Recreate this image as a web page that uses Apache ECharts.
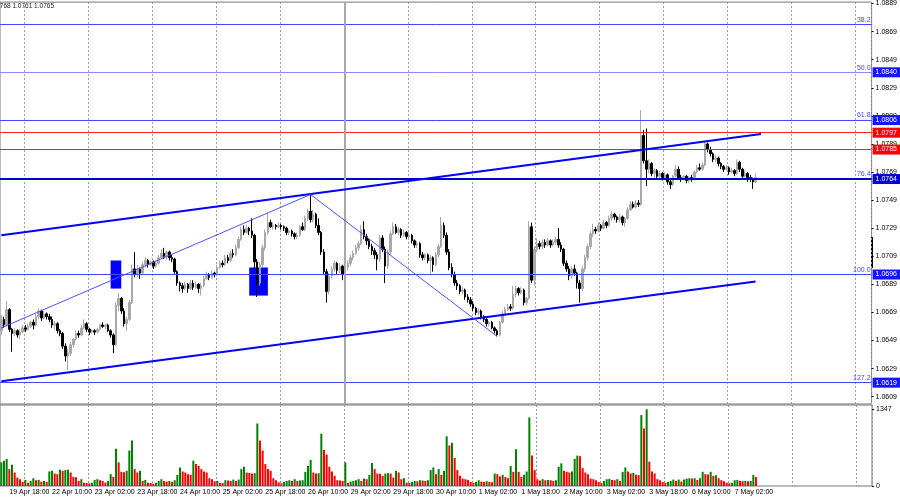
<!DOCTYPE html>
<html>
<head>
<meta charset="utf-8">
<script src="https://cdn.jsdelivr.net/npm/echarts@6/dist/echarts.min.js"></script>
<style>
  html, body { margin: 0; padding: 0; background: #fff; }
  #chart { width: 900px; height: 500px; }
</style>
</head>
<body>
<div id="chart"></div>
<script>
// hourly bars EURUSD H1, 19 Apr 15:00 .. 7 May 10:00, [open, close, low, high]
const candles = [
  [1.0656,1.0664,1.0653,1.0667],[1.0664,1.0660,1.0658,1.0666],[1.0660,1.0671,1.0659,1.0677],[1.0671,1.0657,1.0655,1.0672],
  [1.0657,1.0654,1.0641,1.0658],[1.0654,1.0656,1.0652,1.0658],[1.0656,1.0653,1.0651,1.0657],[1.0653,1.0655,1.0650,1.0657],
  [1.0655,1.0658,1.0654,1.0660],[1.0658,1.0657,1.0655,1.0660],[1.0657,1.0659,1.0656,1.0661],[1.0659,1.0662,1.0658,1.0663],
  [1.0662,1.0660,1.0657,1.0664],[1.0660,1.0666,1.0659,1.0668],[1.0666,1.0670,1.0664,1.0672],[1.0670,1.0665,1.0663,1.0671],
  [1.0665,1.0668,1.0664,1.0670],[1.0668,1.0666,1.0664,1.0669],[1.0666,1.0664,1.0662,1.0668],[1.0664,1.0660,1.0658,1.0666],
  [1.0660,1.0661,1.0657,1.0663],[1.0661,1.0656,1.0654,1.0662],[1.0656,1.0654,1.0652,1.0657],[1.0654,1.0645,1.0643,1.0655],
  [1.0645,1.0638,1.0634,1.0647],[1.0638,1.0640,1.0628,1.0643],[1.0640,1.0646,1.0638,1.0648],[1.0646,1.0650,1.0644,1.0651],
  [1.0650,1.0654,1.0649,1.0656],[1.0654,1.0653,1.0651,1.0656],[1.0653,1.0658,1.0652,1.0660],[1.0658,1.0661,1.0657,1.0664],
  [1.0661,1.0657,1.0655,1.0662],[1.0657,1.0655,1.0653,1.0658],[1.0655,1.0656,1.0654,1.0657],[1.0656,1.0655,1.0653,1.0657],
  [1.0655,1.0657,1.0654,1.0658],[1.0657,1.0660,1.0656,1.0661],[1.0660,1.0659,1.0658,1.0662],[1.0659,1.0660,1.0657,1.0661],
  [1.0660,1.0656,1.0655,1.0661],[1.0656,1.0653,1.0651,1.0657],[1.0653,1.0646,1.0640,1.0654],[1.0646,1.0674,1.0645,1.0676],
  [1.0674,1.0679,1.0670,1.0683],[1.0679,1.0670,1.0668,1.0680],[1.0670,1.0661,1.0659,1.0672],[1.0661,1.0664,1.0656,1.0666],
  [1.0664,1.0676,1.0663,1.0678],[1.0676,1.0700,1.0675,1.0703],[1.0700,1.0696,1.0694,1.0712],[1.0696,1.0700,1.0694,1.0703],
  [1.0700,1.0697,1.0693,1.0701],[1.0697,1.0703,1.0696,1.0705],[1.0703,1.0706,1.0701,1.0708],[1.0706,1.0703,1.0701,1.0707],
  [1.0703,1.0705,1.0702,1.0706],[1.0705,1.0702,1.0700,1.0706],[1.0702,1.0704,1.0701,1.0706],[1.0704,1.0708,1.0703,1.0710],
  [1.0708,1.0711,1.0707,1.0714],[1.0711,1.0709,1.0707,1.0715],[1.0709,1.0712,1.0707,1.0713],[1.0712,1.0708,1.0706,1.0713],
  [1.0708,1.0707,1.0705,1.0710],[1.0707,1.0698,1.0696,1.0708],[1.0698,1.0690,1.0688,1.0699],[1.0690,1.0688,1.0684,1.0691],
  [1.0688,1.0686,1.0683,1.0690],[1.0686,1.0689,1.0685,1.0691],[1.0689,1.0686,1.0683,1.0690],[1.0686,1.0690,1.0685,1.0692],
  [1.0690,1.0687,1.0685,1.0692],[1.0687,1.0689,1.0686,1.0691],[1.0689,1.0686,1.0683,1.0690],[1.0686,1.0688,1.0681,1.0690],
  [1.0688,1.0693,1.0687,1.0695],[1.0693,1.0696,1.0692,1.0698],[1.0696,1.0694,1.0692,1.0697],[1.0694,1.0697,1.0693,1.0699],
  [1.0697,1.0696,1.0694,1.0698],[1.0696,1.0701,1.0695,1.0703],[1.0701,1.0704,1.0700,1.0706],[1.0704,1.0703,1.0701,1.0706],
  [1.0703,1.0708,1.0702,1.0710],[1.0708,1.0706,1.0704,1.0710],[1.0706,1.0711,1.0705,1.0713],[1.0711,1.0710,1.0708,1.0714],
  [1.0710,1.0715,1.0709,1.0717],[1.0715,1.0721,1.0714,1.0723],[1.0721,1.0728,1.0720,1.0730],[1.0728,1.0726,1.0724,1.0731],
  [1.0726,1.0729,1.0725,1.0731],[1.0729,1.0727,1.0724,1.0730],[1.0727,1.0724,1.0722,1.0736],[1.0724,1.0705,1.0700,1.0725],
  [1.0705,1.0690,1.0680,1.0707],[1.0690,1.0703,1.0688,1.0705],[1.0703,1.0715,1.0701,1.0717],[1.0715,1.0726,1.0713,1.0728],
  [1.0726,1.0733,1.0724,1.0740],[1.0733,1.0730,1.0729,1.0735],[1.0730,1.0731,1.0728,1.0733],[1.0731,1.0730,1.0728,1.0732],
  [1.0730,1.0731,1.0729,1.0733],[1.0731,1.0730,1.0728,1.0732],[1.0730,1.0729,1.0727,1.0731],[1.0729,1.0726,1.0724,1.0730],
  [1.0726,1.0727,1.0724,1.0728],[1.0727,1.0725,1.0723,1.0728],[1.0725,1.0723,1.0721,1.0726],[1.0723,1.0724,1.0721,1.0726],
  [1.0724,1.0730,1.0723,1.0731],[1.0730,1.0728,1.0727,1.0733],[1.0728,1.0736,1.0727,1.0738],[1.0736,1.0741,1.0734,1.0743],
  [1.0741,1.0735,1.0733,1.0754],[1.0735,1.0739,1.0733,1.0742],[1.0739,1.0731,1.0729,1.0740],[1.0731,1.0726,1.0724,1.0736],
  [1.0726,1.0712,1.0710,1.0727],[1.0712,1.0698,1.0696,1.0714],[1.0698,1.0684,1.0676,1.0700],[1.0684,1.0695,1.0682,1.0697],
  [1.0695,1.0700,1.0693,1.0702],[1.0700,1.0704,1.0698,1.0706],[1.0704,1.0699,1.0696,1.0705],[1.0699,1.0702,1.0697,1.0704],
  [1.0702,1.0696,1.0692,1.0703],[1.0696,1.0701,1.0695,1.0703],[1.0701,1.0704,1.0699,1.0706],[1.0704,1.0708,1.0702,1.0710],
  [1.0708,1.0711,1.0706,1.0713],[1.0711,1.0715,1.0710,1.0717],[1.0715,1.0718,1.0713,1.0720],[1.0718,1.0728,1.0717,1.0731],
  [1.0728,1.0723,1.0721,1.0734],[1.0723,1.0720,1.0717,1.0725],[1.0720,1.0716,1.0714,1.0722],[1.0716,1.0713,1.0710,1.0718],
  [1.0713,1.0710,1.0707,1.0715],[1.0710,1.0707,1.0699,1.0712],[1.0707,1.0722,1.0705,1.0724],[1.0722,1.0714,1.0712,1.0724],
  [1.0714,1.0702,1.0690,1.0716],[1.0702,1.0712,1.0700,1.0714],[1.0712,1.0725,1.0710,1.0727],[1.0725,1.0730,1.0724,1.0733],
  [1.0730,1.0726,1.0725,1.0732],[1.0726,1.0728,1.0724,1.0730],[1.0728,1.0724,1.0722,1.0729],[1.0724,1.0726,1.0723,1.0728],
  [1.0726,1.0723,1.0721,1.0727],[1.0723,1.0724,1.0721,1.0726],[1.0724,1.0720,1.0718,1.0725],[1.0720,1.0717,1.0715,1.0721],
  [1.0717,1.0718,1.0715,1.0720],[1.0718,1.0710,1.0708,1.0719],[1.0710,1.0708,1.0706,1.0712],[1.0708,1.0710,1.0706,1.0711],
  [1.0710,1.0706,1.0704,1.0711],[1.0706,1.0708,1.0696,1.0710],[1.0708,1.0703,1.0698,1.0709],[1.0703,1.0710,1.0702,1.0712],
  [1.0710,1.0716,1.0708,1.0718],[1.0716,1.0731,1.0715,1.0737],[1.0731,1.0724,1.0722,1.0733],[1.0724,1.0712,1.0710,1.0726],
  [1.0712,1.0701,1.0699,1.0714],[1.0701,1.0696,1.0694,1.0704],[1.0696,1.0690,1.0688,1.0698],[1.0690,1.0688,1.0685,1.0692],
  [1.0688,1.0684,1.0682,1.0689],[1.0684,1.0685,1.0682,1.0687],[1.0685,1.0680,1.0678,1.0686],[1.0680,1.0678,1.0676,1.0682],
  [1.0678,1.0675,1.0673,1.0680],[1.0675,1.0672,1.0670,1.0677],[1.0672,1.0669,1.0667,1.0673],[1.0669,1.0670,1.0667,1.0672],
  [1.0670,1.0666,1.0664,1.0671],[1.0666,1.0664,1.0662,1.0667],[1.0664,1.0661,1.0659,1.0665],[1.0661,1.0662,1.0659,1.0663],
  [1.0662,1.0658,1.0657,1.0663],[1.0658,1.0656,1.0654,1.0659],[1.0656,1.0653,1.0652,1.0657],[1.0653,1.0662,1.0652,1.0663],
  [1.0662,1.0668,1.0661,1.0670],[1.0668,1.0671,1.0667,1.0673],[1.0671,1.0673,1.0670,1.0675],[1.0673,1.0672,1.0670,1.0675],
  [1.0672,1.0682,1.0671,1.0688],[1.0682,1.0686,1.0680,1.0688],[1.0686,1.0683,1.0681,1.0687],[1.0683,1.0685,1.0682,1.0687],
  [1.0685,1.0676,1.0674,1.0686],[1.0676,1.0679,1.0674,1.0680],[1.0679,1.0730,1.0678,1.0734],[1.0730,1.0692,1.0690,1.0733],
  [1.0692,1.0714,1.0688,1.0716],[1.0714,1.0718,1.0712,1.0722],[1.0718,1.0716,1.0714,1.0720],[1.0716,1.0719,1.0714,1.0721],
  [1.0719,1.0717,1.0715,1.0721],[1.0717,1.0720,1.0716,1.0722],[1.0720,1.0717,1.0715,1.0721],[1.0717,1.0719,1.0716,1.0721],
  [1.0719,1.0721,1.0717,1.0723],[1.0721,1.0717,1.0715,1.0729],[1.0717,1.0714,1.0712,1.0719],[1.0714,1.0704,1.0702,1.0715],
  [1.0704,1.0700,1.0698,1.0706],[1.0700,1.0695,1.0692,1.0702],[1.0695,1.0700,1.0693,1.0702],[1.0700,1.0697,1.0695,1.0703],
  [1.0697,1.0690,1.0686,1.0698],[1.0690,1.0686,1.0676,1.0692],[1.0686,1.0700,1.0684,1.0702],[1.0700,1.0708,1.0698,1.0710],
  [1.0708,1.0716,1.0706,1.0718],[1.0716,1.0725,1.0714,1.0727],[1.0725,1.0728,1.0723,1.0732],[1.0728,1.0727,1.0725,1.0730],
  [1.0727,1.0731,1.0726,1.0733],[1.0731,1.0729,1.0727,1.0732],[1.0729,1.0733,1.0728,1.0735],[1.0733,1.0731,1.0729,1.0734],
  [1.0731,1.0736,1.0730,1.0738],[1.0736,1.0739,1.0734,1.0741],[1.0739,1.0737,1.0735,1.0740],[1.0737,1.0735,1.0733,1.0738],
  [1.0735,1.0737,1.0733,1.0739],[1.0737,1.0733,1.0731,1.0738],[1.0733,1.0736,1.0730,1.0737],[1.0736,1.0742,1.0735,1.0744],
  [1.0742,1.0746,1.0741,1.0748],[1.0746,1.0744,1.0743,1.0748],[1.0744,1.0747,1.0743,1.0749],[1.0747,1.0746,1.0744,1.0749],
  [1.0746,1.0795,1.0745,1.0813],[1.0795,1.0777,1.0775,1.0799],[1.0777,1.0771,1.0759,1.0800],[1.0771,1.0775,1.0768,1.0778],
  [1.0775,1.0768,1.0766,1.0776],[1.0768,1.0770,1.0765,1.0772],[1.0770,1.0766,1.0764,1.0771],[1.0766,1.0768,1.0764,1.0770],
  [1.0768,1.0765,1.0763,1.0769],[1.0765,1.0767,1.0764,1.0769],[1.0767,1.0762,1.0760,1.0768],[1.0762,1.0760,1.0757,1.0764],
  [1.0760,1.0766,1.0759,1.0767],[1.0766,1.0771,1.0765,1.0774],[1.0771,1.0765,1.0764,1.0773],[1.0765,1.0764,1.0762,1.0767],
  [1.0764,1.0766,1.0763,1.0767],[1.0766,1.0763,1.0761,1.0767],[1.0763,1.0765,1.0761,1.0766],[1.0765,1.0764,1.0762,1.0767],
  [1.0764,1.0769,1.0763,1.0770],[1.0769,1.0772,1.0768,1.0774],[1.0772,1.0771,1.0770,1.0775],[1.0771,1.0774,1.0770,1.0776],
  [1.0774,1.0789,1.0773,1.0791],[1.0789,1.0785,1.0783,1.0790],[1.0785,1.0782,1.0780,1.0787],[1.0782,1.0778,1.0776,1.0783],
  [1.0778,1.0779,1.0776,1.0781],[1.0779,1.0775,1.0773,1.0780],[1.0775,1.0773,1.0771,1.0776],[1.0773,1.0771,1.0769,1.0774],
  [1.0771,1.0772,1.0770,1.0774],[1.0772,1.0769,1.0767,1.0773],[1.0769,1.0770,1.0768,1.0772],[1.0770,1.0768,1.0766,1.0771],
  [1.0768,1.0776,1.0767,1.0778],[1.0776,1.0771,1.0769,1.0777],[1.0771,1.0766,1.0764,1.0772],[1.0766,1.0768,1.0765,1.0770],
  [1.0768,1.0765,1.0762,1.0769],[1.0765,1.0764,1.0762,1.0767],[1.0764,1.0762,1.0757,1.0765],[1.0762,1.0765,1.0761,1.0768]
];

const volumes = [
  415,445,474,297,374,237,148,119,71,107, 59,89,136,101,107,77,89,71,255,267,
  219,208,285,267,279,285,237,160,155,89, 119,59,53,47,59,107,119,101,89,59,
  89,208,160,652,415,249,243,267,623,800, 297,237,267,89,107,59,53,42,59,89,
  119,89,77,89,71,101,196,326,255,237, 208,196,445,385,356,297,255,237,136,119,
  83,89,53,50,101,95,89,113,89,113, 297,338,237,230,219,225,1097,800,623,385,
  297,267,136,101,65,47,71,89,101,89, 119,89,95,101,249,356,457,237,219,225,
  919,634,551,338,255,178,101,95,89,415, 59,77,89,101,119,89,130,119,196,403,
  297,219,213,178,219,225,219,148,267,237, 119,136,59,53,71,89,83,101,95,89,
  101,279,326,208,297,196,267,872,712,759, 492,279,178,130,119,107,71,53,71,101,
  77,71,83,71,65,219,208,166,196,160, 136,350,249,646,249,160,196,255,1204,534,
  279,119,95,119,101,107,101,89,101,338, 397,267,249,237,255,474,534,522,314,237,
  208,130,119,101,71,53,89,119,125,107, 101,119,89,249,326,255,219,231,196,190,
  1245,1008,1347,427,255,219,119,101,71,53, 71,89,113,89,113,77,113,130,136,130,
  136,107,136,249,208,200,249,178,190,136, 101,83,59,47,59,101,107,89,83,89,
  83,89,196,160
];

// price scale tick labels (right side)
const priceTicks = [1.0609,1.0629,1.0649,1.0669,1.0689,1.0709,1.0729,1.0749,1.0769,1.0789,1.0809,1.0829,1.0849,1.0869,1.0889];
const volumeTicks = [0, 1347];

// fibonacci levels and horizontal lines
const fiboLevels = ['38.2', '50.0', '61.8', '76.4', '100.0', '127.2'];
const fiboPrices = [1.0874, 1.0840, 1.0806, 1.0764, 1.0696, 1.0619];
const fiboTagged = [false, true, true, true, true, true];
const redLevels = [1.0797, 1.0785];
const mainLevel = 1.0764;

// drawn objects, [bar index, price]
const channelTop = [[0, 1.0724], [285, 1.0796]];
const channelBottom = [[0, 1.0620], [283, 1.0691]];
const zigzag = [[0, 1.0658], [116, 1.0753], [186, 1.0652]];
const zones = [[[41, 1.0706], [45, 1.0686]], [[93, 1.0701], [100, 1.0681]]];
const vlineBar = 129;

// hourly time axis (weekends skipped), runs past the last bar into empty space
const MONTHS = ['Jan','Feb','Mar','Apr','May','Jun','Jul','Aug','Sep','Oct','Nov','Dec'];
const TOTAL_BARS = 327;
const times = [];
let t = Date.UTC(2024, 3, 19, 15);
while (times.length < TOTAL_BARS) {
  const d = new Date(t);
  const wd = d.getUTCDay();
  if (wd !== 0 && wd !== 6) {
    const hh = String(d.getUTCHours()).padStart(2, '0');
    times.push(d.getUTCDate() + ' ' + MONTHS[d.getUTCMonth()] + ' ' + hh + ':00');
  }
  t += 3600000;
}
const lastBar = candles.length - 1;

const FONT = 'Liberation Sans';
const BLUE = '#4646ff';
const volColors = volumes.map((v, i) => (i === 0 || v > volumes[i - 1]) ? '#008000' : '#ff0000');

const markLines = [];
fiboPrices.forEach((p, i) => {
  markLines.push({
    yAxis: p,
    lineStyle: { color: i === 1 ? '#8c8cff' : BLUE, width: 1, type: 'solid' },
    label: { show: true, position: 'insideEndTop', formatter: fiboLevels[i], color: BLUE, fontSize: 7, fontFamily: FONT, distance: 1 }
  });
});
redLevels.forEach(p => {
  markLines.push({ yAxis: p, lineStyle: { color: '#ff2020', width: 1, type: 'solid' }, label: { show: false } });
});
markLines.push({ yAxis: mainLevel, lineStyle: { color: '#0000c8', width: 2, type: 'solid' }, label: { show: false } });
// price tags on the scale
const tag = (p, bg) => ({
  yAxis: p,
  lineStyle: { color: 'rgba(0,0,0,0)', width: 0 },
  label: {
    show: true, position: 'end', distance: 1, formatter: p.toFixed(4),
    color: '#fff', backgroundColor: bg, padding: [2, 3, 1, 3], fontSize: 7, fontFamily: FONT
  }
});
fiboPrices.forEach((p, i) => { if (fiboTagged[i]) markLines.push(tag(p, p === mainLevel ? '#0000d0' : '#1515ff')); });
redLevels.forEach(p => markLines.push(tag(p, '#ff0000')));
markLines.push({ xAxis: vlineBar, lineStyle: { color: '#a8a8a8', width: 2, type: 'solid' }, label: { show: false } });
const seg = (a, b, w, c) => [
  { coord: a, lineStyle: { color: c, width: w, type: 'solid' } },
  { coord: b }
];
markLines.push(seg(channelTop[0], channelTop[1], 2, '#0000ff'));
markLines.push(seg(channelBottom[0], channelBottom[1], 2, '#0000ff'));
for (let i = 0; i < zigzag.length - 1; i++) markLines.push(seg(zigzag[i], zigzag[i + 1], 1, '#5050ff'));

const dayLine = { show: true, interval: (i, v) => / 00:00$/.test(v), lineStyle: { color: '#9a9a9a', type: [2, 2], width: 1 } };

const chart = echarts.init(document.getElementById('chart'));
chart.setOption({
  animation: false,
  backgroundColor: '#fff',
  textStyle: { fontFamily: FONT },
  grid: [
    { left: -1, right: 28, top: 2, height: 402, show: true, borderColor: '#777', borderWidth: 1 },
    { left: -1, right: 28, top: 405, height: 81, show: true, borderColor: '#777', borderWidth: 1 }
  ],
  xAxis: [
    {
      type: 'category', gridIndex: 0, data: times, boundaryGap: true,
      axisLine: { show: false }, axisTick: { show: false }, axisLabel: { show: false },
      splitLine: dayLine
    },
    {
      type: 'category', gridIndex: 1, data: times, boundaryGap: true,
      axisLine: { show: false }, axisTick: { show: false },
      axisLabel: {
        interval: (i) => i % 16 === 3 && i <= lastBar,
        align: 'left', margin: 3, fontSize: 7, color: '#000', fontFamily: FONT
      },
      splitLine: dayLine
    }
  ],
  yAxis: [
    {
      type: 'value', gridIndex: 0, position: 'right', min: 1.06038, max: 1.08900, scale: true,
      axisLine: { show: false }, splitLine: { show: false },
      axisTick: { show: true, customValues: priceTicks, length: 2, lineStyle: { color: '#000' } },
      axisLabel: { customValues: priceTicks, formatter: v => v.toFixed(4), fontSize: 7, color: '#000', margin: 4, fontFamily: FONT }
    },
    {
      type: 'value', gridIndex: 1, position: 'right', min: 0, max: 1422,
      axisLine: { show: false }, splitLine: { show: false },
      axisTick: { show: true, customValues: volumeTicks, length: 2, lineStyle: { color: '#000' } },
      axisLabel: { customValues: volumeTicks, formatter: v => String(v), fontSize: 7, color: '#000', margin: 4, fontFamily: FONT }
    }
  ],
  series: [
    {
      type: 'candlestick', xAxisIndex: 0, yAxisIndex: 0, data: candles, barWidth: 2, clip: false,
      itemStyle: { color: '#a8a8a8', color0: '#000000', borderColor: '#a8a8a8', borderColor0: '#000000', borderWidth: 1 },
      markArea: {
        silent: true,
        itemStyle: { color: '#0000ff', opacity: 1 },
        data: zones.map(z => [{ coord: z[0] }, { coord: z[1] }])
      },
      markLine: { silent: true, symbol: ['none', 'none'], precision: 4, animation: false, data: markLines }
    },
    {
      type: 'bar', xAxisIndex: 1, yAxisIndex: 1, barWidth: 2,
      data: volumes.map((v, i) => ({ value: v, itemStyle: { color: volColors[i] } }))
    }
  ],
  graphic: [
    { type: 'text', x: 54, y: 3, style: { text: '1.0764 1.0768 1.0761 1.0765', align: 'right', fill: '#222', font: '6.5px "Liberation Sans"' } },
    { type: 'rect', x: 871, y: 237, shape: { width: 2, height: 31 }, style: { fill: '#000' } }
  ]
});
</script>
</body>
</html>
